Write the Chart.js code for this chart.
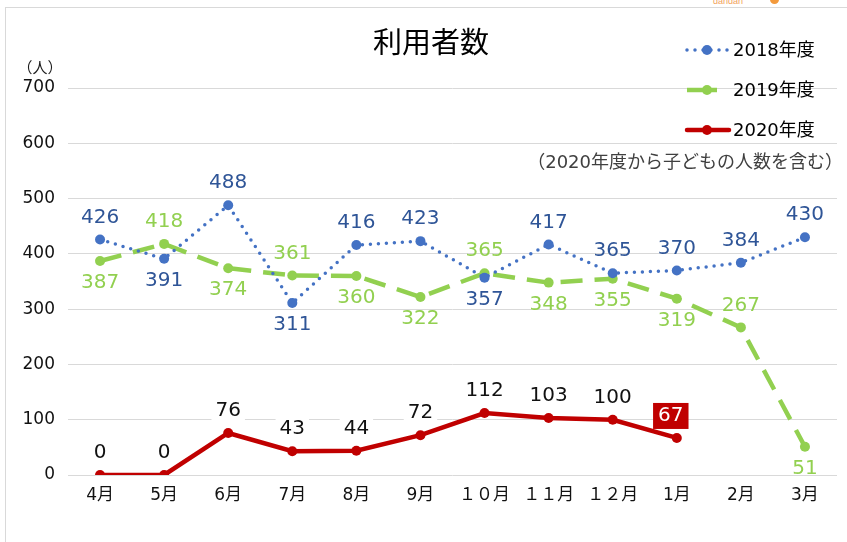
<!DOCTYPE html>
<html lang="ja">
<head>
<meta charset="utf-8">
<title>利用者数</title>
<script src="https://cdn.jsdelivr.net/npm/chart.js@4.4.1/dist/chart.umd.min.js"></script>
<style>
  html, body { margin: 0; padding: 0; background: #fff; }
  #wrap { position: relative; width: 847px; height: 542px; overflow: hidden; }
  #frame { position: absolute; left: 5px; top: 7px; width: 900px; height: 600px;
           border: 1px solid #d9d9d9; box-sizing: border-box; }
  #mark { position: absolute; left: 713px; top: -4px; font: 9px "Liberation Sans", sans-serif; color: #f2a25c; }
  #markdot { position: absolute; left: 770px; top: -5px; width: 9px; height: 9px;
             border-radius: 50%; background: #f39a3c; }
  canvas { position: absolute; left: 0; top: 0; }
</style>
</head>
<body>
<div id="wrap">
  <div id="frame"></div>
  <div id="mark">dandan</div>
  <div id="markdot"></div>
  <canvas id="usersChart" width="847" height="542"></canvas>
</div>
<script>
// 月（4月始まり）
const months = ["4月", "5月", "6月", "7月", "8月", "9月", "１０月", "１１月", "１２月", "1月", "2月", "3月"];

// 利用者数（人）
const users2018 = [426, 391, 488, 311, 416, 423, 357, 417, 365, 370, 384, 430];
const users2019 = [387, 418, 374, 361, 360, 322, 365, 348, 355, 319, 267, 51];
const users2020 = [0, 0, 76, 43, 44, 72, 112, 103, 100, 67];

// 縦軸
const yMin = 0;
const yMax = 700;
const yStep = 100;

const numFont = '"DejaVu Sans", "Noto Sans CJK JP", sans-serif';
const jpFont = '"DejaVu Sans", "Noto Sans CJK JP", sans-serif';

// 値ラベル（点の上下に描く）
const valueLabels = {
    id: "valueLabels",
    afterDatasetsDraw(chart) {
        const ctx = chart.ctx;
        ctx.save();
        ctx.font = "20px " + numFont;
        ctx.textAlign = "center";
        ctx.textBaseline = "middle";
        chart.data.datasets.forEach((ds, i) => {
            const meta = chart.getDatasetMeta(i);
            meta.data.forEach((pt, j) => {
                const v = ds.data[j];
                let below = ds.labelBelowAll ? true : false;
                if (ds.labelFlip && ds.labelFlip.includes(j)) below = !below;
                const y = pt.y + (below ? 22 : -22);
                const text = String(v);
                const w = ctx.measureText(text).width;
                if (ds.highlightLast && j === ds.data.length - 1) {
                    const x = pt.x - 6;
                    ctx.fillStyle = "#C00000";
                    ctx.fillRect(x - w / 2 - 5, y - 13, w + 10, 26);
                    ctx.fillStyle = "#ffffff";
                    ctx.fillText(text, x, y);
                    return;
                }
                if (ds.labelBg) {
                    ctx.fillStyle = ds.labelBg;
                    ctx.fillRect(pt.x - w / 2 - 4, y - 12, w + 8, 24);
                }
                ctx.fillStyle = ds.labelColor;
                ctx.fillText(text, pt.x, y);
            });
        });
        ctx.restore();
    }
};

// タイトル・凡例・注記
const decorations = {
    id: "decorations",
    afterDraw(chart) {
        const ctx = chart.ctx;
        ctx.save();
        ctx.textBaseline = "middle";

        ctx.fillStyle = "#000";
        ctx.textAlign = "center";
        ctx.font = "29px \"Noto Sans CJK JP\", sans-serif";
        ctx.fillText("利用者数", 431, 42);

        ctx.font = "15px \"Noto Sans CJK JP\", sans-serif";
        ctx.fillStyle = "#1a1a1a";
        ctx.fillText("（人）", 40, 67);

        // 凡例
        const rows = [50, 90, 130];
        chart.data.datasets.forEach((ds, i) => {
            const y = rows[i];
            ctx.strokeStyle = ds.borderColor;
            ctx.lineWidth = ds.borderWidth;
            ctx.lineCap = ds.borderCapStyle || "butt";
            ctx.setLineDash(ds.legendDash || []);
            ctx.beginPath();
            ctx.moveTo(687, y);
            ctx.lineTo(ds.legendEnd, y);
            ctx.stroke();
            ctx.setLineDash([]);
            ctx.fillStyle = ds.borderColor;
            ctx.beginPath();
            ctx.arc(707, y, ds.pointRadius, 0, Math.PI * 2);
            ctx.fill();
            ctx.fillStyle = "#000";
            ctx.textAlign = "left";
            ctx.font = "18px " + jpFont;
            ctx.fillText(ds.label, 733, y + 1);
        });

        ctx.textAlign = "right";
        ctx.fillStyle = "#404040";
        ctx.font = "18px " + jpFont;
        ctx.fillText("（2020年度から子どもの人数を含む）", 843, 163);
        ctx.restore();
    }
};

const ctx = document.getElementById("usersChart").getContext("2d");

new Chart(ctx, {
    type: "line",
    data: {
        labels: months,
        datasets: [
            {
                label: "2018年度",
                data: users2018,
                borderColor: "#4472C4",
                backgroundColor: "#4472C4",
                borderWidth: 3.5,
                borderDash: [0, 8],
                borderCapStyle: "round",
                legendDash: [0, 8],
                legendEnd: 729,
                pointRadius: 5,
                pointBorderWidth: 0,
                labelColor: "#2F5597",
                labelFlip: [1, 3, 6],
                tension: 0
            },
            {
                label: "2019年度",
                data: users2019,
                borderColor: "#92D050",
                backgroundColor: "#92D050",
                borderWidth: 4.5,
                borderDash: [22, 12],
                borderCapStyle: "butt",
                legendEnd: 717,
                pointRadius: 5,
                pointBorderWidth: 0,
                labelColor: "#92D050",
                labelBelowAll: true,
                labelFlip: [1, 3, 6, 10],
                tension: 0
            },
            {
                label: "2020年度",
                data: users2020,
                borderColor: "#C00000",
                backgroundColor: "#C00000",
                borderWidth: 4.5,
                borderCapStyle: "round",
                legendEnd: 729,
                pointRadius: 5,
                pointBorderWidth: 0,
                labelColor: "#111",
                labelBg: "#ffffff",
                highlightLast: true,
                tension: 0
            }
        ]
    },
    options: {
        responsive: false,
        animation: false,
        layout: { padding: { left: 10, right: 10, top: 88, bottom: 27 } },
        plugins: {
            legend: { display: false },
            title: { display: false },
            tooltip: { enabled: false }
        },
        scales: {
            x: {
                offset: true,
                grid: { display: false, drawTicks: false },
                border: { display: false },
                ticks: {
                    color: "#111",
                    font: { size: 17, family: jpFont },
                    padding: 10,
                    maxRotation: 0,
                    autoSkip: false
                },
                afterFit(scale) { scale.height = 40; }
            },
            y: {
                min: yMin,
                max: yMax,
                grid: { color: "#d9d9d9", lineWidth: 1, drawTicks: false },
                border: { display: false },
                ticks: {
                    stepSize: yStep,
                    color: "#111",
                    font: { size: 17, family: numFont },
                    padding: 13
                },
                afterFit(scale) { scale.width = 58; }
            }
        }
    },
    plugins: [valueLabels, decorations]
});
</script>
</body>
</html>
